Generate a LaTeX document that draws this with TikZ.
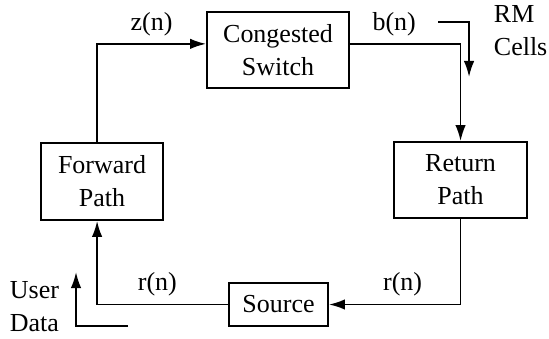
\documentclass[tikz,border=0pt]{standalone}
\usepackage{fontspec}
\setmainfont{Liberation Serif}
\usetikzlibrary{arrows.meta}
\begin{document}
\begin{tikzpicture}[line width=0.85pt, line join=miter,
    font=\fontsize{12}{15.2}\selectfont,
    block/.style={draw, align=center, inner sep=0pt},
    flow/.style={-{Latex[length=2.6mm,width=1.7mm]}}]
  \useasboundingbox (0,0) rectangle (8.912,5.487);
  \node[block, minimum width=2.305cm, minimum height=1.234cm] (sw) at (4.513,4.675) {Congested\\Switch};
  \node[block, minimum width=1.981cm, minimum height=1.25cm] (fwd) at (1.656,2.541) {Forward\\Path};
  \node[block, minimum width=2.159cm, minimum height=1.234cm] (ret) at (7.476,2.565) {Return\\Path};
  \node[block, minimum width=1.607cm, minimum height=0.698cm] (src) at (4.521,0.544) {Source};
  \draw[flow] ([xshift=-0.8mm]fwd.north) |- node[pos=0.75, above] (zlab) {z(n)} ([yshift=1mm]sw.west);
  \draw[flow] ([yshift=1mm]sw.east) -| node[pos=0.2, above] (blab) {b(n)} (ret.north);
  \draw[flow] (ret.south) |- node[pos=0.72, above] (rlab) {r(n)} (src.east);
  \draw[flow] (src.west) -| node[pos=0.27, above] (slab) {r(n)} ([xshift=-0.8mm]fwd.south);
  \coordinate (rmin) at (7.110,5.130);
  \coordinate (rmout) at (7.614,4.237);
  \draw[flow] (rmin) -| (rmout);
  \node[anchor=west, align=left, inner sep=0pt] (rm) at (8.003,4.984) {RM\\Cells};
  \coordinate (udin) at (2.078,0.195);
  \coordinate (udout) at (1.234,1.071);
  \draw[flow] (udin) -| (udout);
  \node[anchor=west, align=left, inner sep=0pt] (ud) at (0.146,0.503) {User\\Data};
\end{tikzpicture}
\end{document}
